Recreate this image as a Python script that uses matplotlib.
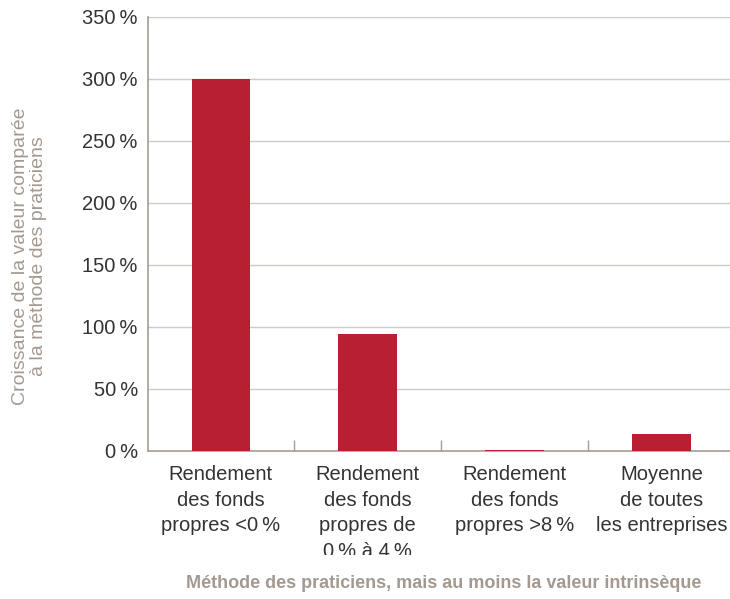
import matplotlib.pyplot as plt
from matplotlib.transforms import Bbox, TransformedBbox

plt.rcParams['font.family'] = ['Liberation Sans', 'DejaVu Sans']

# data
categories = [
    "Rendement\ndes fonds\npropres <0\u2009%",
    "Rendement\ndes fonds\npropres de\n0\u2009% à 4\u2009%",
    "Rendement\ndes fonds\npropres >8\u2009%",
    "Moyenne\nde toutes\nles entreprises",
]
values = [300, 94, 0.6, 14]
y_ticks = [0, 50, 100, 150, 200, 250, 300, 350]
y_labels = [f"{v}\u2009%" for v in y_ticks]

bar_color = '#b81f33'
axis_color = '#a59d95'
grid_color = '#cdc9c4'
label_color = '#a39990'
text_color = '#333333'

fig = plt.figure(figsize=(7.3, 5.99), dpi=100)
ax = fig.add_axes([147.5 / 730, 148 / 599, 587.5 / 730, 434 / 599])

x = list(range(len(categories)))
ax.bar(x, values, width=0.4, color=bar_color, zorder=3)

ax.set_xlim(-0.5, 3.5)
ax.set_ylim(0, 350)
ax.set_yticks(y_ticks)
ax.set_yticklabels(y_labels, fontsize=14.5, color=text_color)
ax.tick_params(axis='y', length=0, pad=7)

ax.set_xticks(x)
ax.set_xticklabels(categories, fontsize=14.5, color=text_color, linespacing=1.45)
ax.tick_params(axis='x', which='major', length=0, pad=10)
ax.set_xticks([0.5, 1.5, 2.5], minor=True)
ax.tick_params(axis='x', which='minor', direction='in', length=8,
               width=1, color=axis_color)

ax.grid(axis='y', color=grid_color, linewidth=1, zorder=0)
for side in ['top', 'right']:
    ax.spines[side].set_visible(False)
for side in ['left', 'bottom']:
    ax.spines[side].set_color(axis_color)
    ax.spines[side].set_linewidth(1.2)

ax.set_ylabel("Croissance de la valeur comparée\nà la méthode des praticiens",
              fontsize=14, color=label_color, linespacing=1.1)
ax.yaxis.set_label_coords(-0.171, 0.449)
ax.set_xlabel("Méthode des praticiens, mais au moins la valeur intrinsèque",
              fontsize=13, color=label_color, fontweight='semibold')
ax.xaxis.set_label_coords(0.5047, -0.2857)

# the original clips the long second label at the bottom
clip = TransformedBbox(Bbox([[0, 44 / 599], [1, 1]]), fig.transFigure)
for lab in ax.get_xticklabels():
    lab.set_clip_box(clip)
    lab.set_clip_on(True)

fig.savefig('out.png', dpi=100)
